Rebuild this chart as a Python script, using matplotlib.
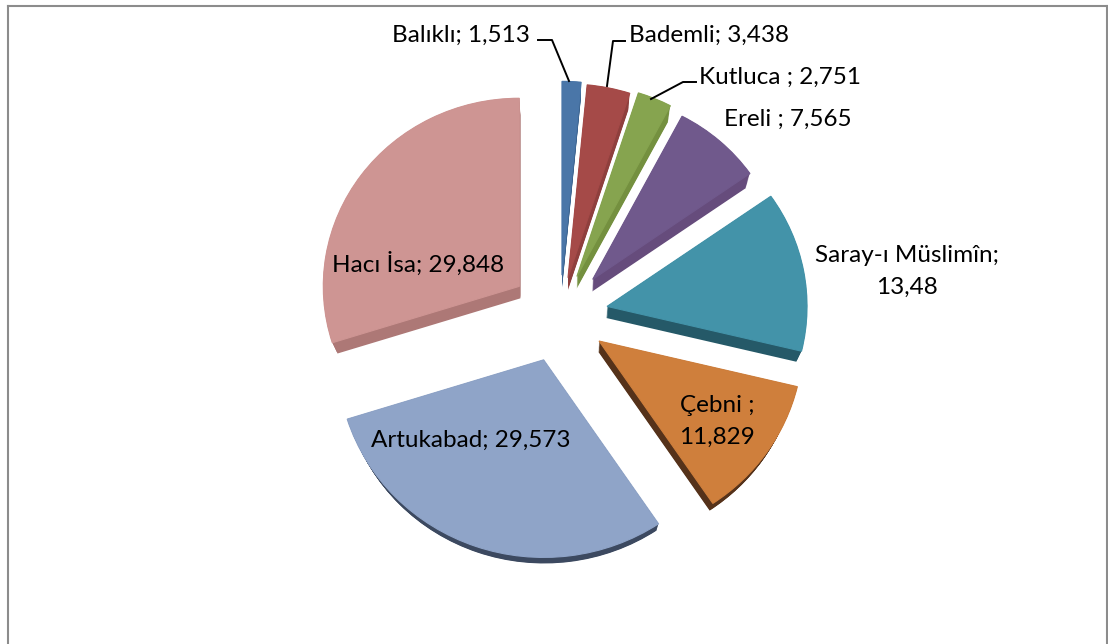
import matplotlib
matplotlib.use('Agg')
import matplotlib.pyplot as plt
import matplotlib.patches as mpatches
from matplotlib.lines import Line2D
from matplotlib.transforms import Affine2D
import numpy as np

W, H = 1108, 644

names = ['Balıklı', 'Bademli', 'Kutluca', 'Ereli', 'Saray-ı Müslimîn', 'Çebni', 'Artukabad', 'Hacı İsa']
values = [1.513, 3.438, 2.751, 7.565, 13.48, 11.829, 29.573, 29.848]
value_labels = ['1,513', '3,438', '2,751', '7,565', '13,48', '11,829', '29,573', '29,848']

top_colors = ['#4a76a8', '#a54a48', '#86a44f', '#70598c', '#4393a9', '#cf7f3c', '#8fa4c8', '#ce9593']
side_colors = ['#3c6490', '#8f3f3d', '#74903f', '#664c7c', '#255968', '#55321a', '#3c4960', '#ad7876']
explode = [0.21, 0.20, 0.22, 0.25, 0.242, 0.24, 0.25, 0.255]
radii = [1.02, 1.02, 1.015, 0.97, 1.01, 1.03, 1.04, 0.99]

# pie centre and radius on the picture, pixels (the 3d tilt squashes y a bit)
cx, cy = 560, 315
rx, ry = 198, 190
# side faces shrink toward this point
vp_x, vp_y = 568, 832
side_scale = 0.978


def fig_xy(x, y):  # pixel (y down) to figure fraction
    return x / W, 1 - y / H


fig = plt.figure(figsize=(W / 100, H / 100), dpi=100)
ax = fig.add_axes([0, 0, 1, 1])

wedges, _ = ax.pie(values, colors=top_colors, explode=explode, startangle=90, counterclock=False)
ax.set_aspect('auto')
ax.set_xlim(-cx / rx, (W - cx) / rx)
ax.set_ylim((cy - H) / ry, cy / ry)

vx = (vp_x - cx) / rx
vy = (cy - vp_y) / ry

# side faces first, as stacked darker copies of each wedge
for w, r, col, top in zip(wedges, radii, side_colors, top_colors):
    w.set_radius(r)
    w.set_zorder(5)
    w.set_edgecolor(top)  # hides the dark fringe of the layers below
    w.set_linewidth(0.8)
    for s in np.linspace(side_scale, 1, 14):
        tr = Affine2D().translate(-vx, -vy).scale(s).translate(vx, vy) + ax.transData
        layer = mpatches.Wedge(w.center, r, w.theta1, w.theta2, color=col, lw=0, zorder=3)
        layer.set_transform(tr)
        ax.add_artist(layer)

# outer frame, only the three sides show
frame_col = '#8c8c8c'
for xs, ys in [([7.5, 7.5], [644, 5.5]), ([7.5, 1107], [5.5, 5.5]), ([1107, 1107], [5.5, 644])]:
    fx, fy = zip(*[fig_xy(a, b) for a, b in zip(xs, ys)])
    fig.add_artist(Line2D(fx, fy, color=frame_col, lw=1.5))

# leader lines
leaders = [
    [(538, 40), (552, 40), (569, 81)],
    [(625, 41), (613, 41), (607, 86)],
    [(696, 82), (683, 82), (651, 99)],
]
for pts in leaders:
    fx, fy = zip(*[fig_xy(a, b) for a, b in pts])
    fig.add_artist(Line2D(fx, fy, color='black', lw=1.4))

# two line labels are two texts, so the line gap stays the same
labels = [
    (461, 33, names[0] + '; ' + value_labels[0]),
    (709, 33, names[1] + '; ' + value_labels[1]),
    (780, 75, names[2] + ' ; ' + value_labels[2]),
    (788, 117, names[3] + ' ; ' + value_labels[3]),
    (907, 254, names[4] + ';'),
    (907, 285, value_labels[4]),
    (717, 403, names[5] + ' ;'),
    (717, 435, value_labels[5]),
    (471, 438, names[6] + '; ' + value_labels[6]),
    (418, 262, names[7] + '; ' + value_labels[7]),
]
for x, y, txt in labels:
    fx, fy = fig_xy(x, y)
    fig.text(fx, fy, txt, ha='center', va='center_baseline', fontsize=17.5, family='Lato',
             color='black', zorder=10)

fig.savefig('out.png', dpi=100)
